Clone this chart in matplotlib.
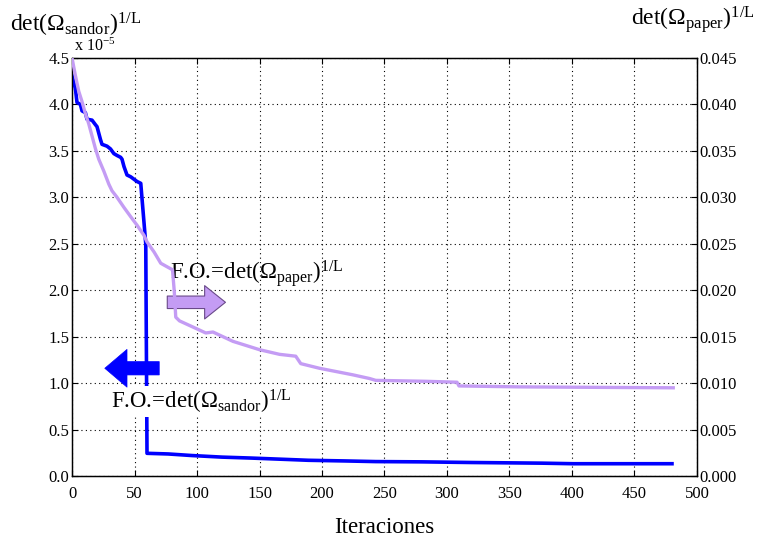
import matplotlib
matplotlib.use("Agg")
import matplotlib.pyplot as plt

plt.rcParams["font.family"] = ["Liberation Serif", "DejaVu Serif"]
plt.rcParams["mathtext.fontset"] = "custom"
plt.rcParams["mathtext.rm"] = "Liberation Serif"
plt.rcParams["mathtext.it"] = "Liberation Serif:italic"
plt.rcParams["mathtext.bf"] = "Liberation Serif:bold"

# det(Omega_sandor)^(1/L), left axis, units of 1e-5
sandor_it = [0, 2.7, 4, 6.7, 8, 10.7, 12, 16, 18.8, 20, 22.8, 24, 28, 30.8, 33.5, 36,
             38.9, 40, 41.6, 44, 47, 52, 55, 59, 60, 77, 96, 120, 143, 170, 189, 218,
             243, 280, 320, 376, 401, 480]
sandor_val = [4.31, 4.17, 4.02, 4.0, 3.93, 3.91, 3.84, 3.83, 3.78, 3.76, 3.62, 3.57, 3.55,
              3.52, 3.47, 3.45, 3.43, 3.41, 3.33, 3.24, 3.22, 3.17, 3.15, 2.5, 0.245,
              0.238, 0.221, 0.204, 0.194, 0.180, 0.170, 0.163, 0.156, 0.153, 0.146,
              0.139, 0.133, 0.133]

# det(Omega_paper)^(1/L), right axis
paper_it = [0, 2.7, 5.4, 8, 10.7, 13.4, 16, 18.8, 21.4, 25.5, 29.5, 32, 36, 41.6, 47, 52,
            57.6, 60, 65.7, 71, 75, 80.4, 81.8, 83, 86, 99, 107, 112.8, 128.7, 150, 166,
            179, 183, 198, 224.5, 238, 243, 283, 308, 309.6, 357.5, 416, 481]
paper_val = [0.0450, 0.0431, 0.0414, 0.0403, 0.0390, 0.0379, 0.0366, 0.0352, 0.0341,
             0.0328, 0.0314, 0.0307, 0.0300, 0.0289, 0.0279, 0.0270, 0.0259, 0.0252,
             0.0241, 0.0229, 0.0226, 0.0222, 0.0199, 0.0171, 0.0167, 0.0159, 0.0154,
             0.0155, 0.0145, 0.0136, 0.0131, 0.0129, 0.0121, 0.0116, 0.0109, 0.0105,
             0.0103, 0.0102, 0.0101, 0.0097, 0.0096, 0.00955, 0.0095]

BLUE = "#0000ff"
PURPLE = "#c49cf4"

fig = plt.figure(figsize=(7.58, 5.41), dpi=100)
ax = fig.add_axes([0.095, 0.12, 0.8245, 0.773])
ax2 = ax.twinx()

ax.plot(sandor_it, sandor_val, color=BLUE, lw=2.6, zorder=3)
ax2.plot(paper_it, paper_val, color=PURPLE, lw=2.4, zorder=3)

ax.set_xlim(0, 500)
ax.set_ylim(0, 4.5)
ax2.set_ylim(0, 0.045)
ax.set_xticks(range(0, 501, 50))
ax.set_yticks([i * 0.5 for i in range(10)])
ax.set_yticklabels([f"{i * 0.5:.1f}" for i in range(10)])
ax2.set_yticks([i * 0.005 for i in range(10)])
ax2.set_yticklabels([f"{i * 0.005:.3f}" for i in range(10)])

ax.grid(True, color="black", linestyle=(0, (1, 3)), lw=0.8)
ax.tick_params(direction="in", labelsize=12, top=True, length=4, pad=2)
ax.tick_params(axis="x", pad=7)
ax2.tick_params(direction="in", labelsize=12, length=4, pad=2)
for a in (ax, ax2):
    for s in a.spines.values():
        s.set_linewidth(0.9)

ax.set_xlabel("Iteraciones", fontsize=16.5, labelpad=11)
fig.text(0.013, 0.928, r"det($\Omega_{\mathrm{sandor}}$)$^{\mathrm{1/L}}$", fontsize=17, ha="left", va="bottom")
fig.text(0.996, 0.936, r"det($\Omega_{\mathrm{paper}}$)$^{\mathrm{1/L}}$", fontsize=17, ha="right", va="bottom")
fig.text(0.097, 0.898, r"x 10$^{\mathrm{-5}}$", fontsize=11.5, ha="left", va="bottom")

# annotation arrows
ax.annotate("", xy=(125, 1.87), xytext=(74, 1.87),
            arrowprops=dict(arrowstyle="simple,head_width=1.6,head_length=1.0,tail_width=0.6",
                            fc=PURPLE, ec="#6a4a8a", lw=0.8, mutation_scale=15), zorder=5)
ax.text(78, 2.18, r"F.O.=det($\Omega_{\mathrm{paper}}$)$^{\mathrm{1/L}}$", fontsize=16.5, ha="left", va="center")

ax.annotate("", xy=(24, 1.16), xytext=(72, 1.16),
            arrowprops=dict(arrowstyle="simple,head_width=1.7,head_length=1.0,tail_width=0.6",
                            fc=BLUE, ec=BLUE, lw=0.5, mutation_scale=16), zorder=5)
ax.text(31, 0.8, r"F.O.=det($\Omega_{\mathrm{sandor}}$)$^{\mathrm{1/L}}$", fontsize=16.5, ha="left", va="center",
        bbox=dict(fc="white", ec="none", pad=1), zorder=4)

fig.savefig("out.png", dpi=100)
